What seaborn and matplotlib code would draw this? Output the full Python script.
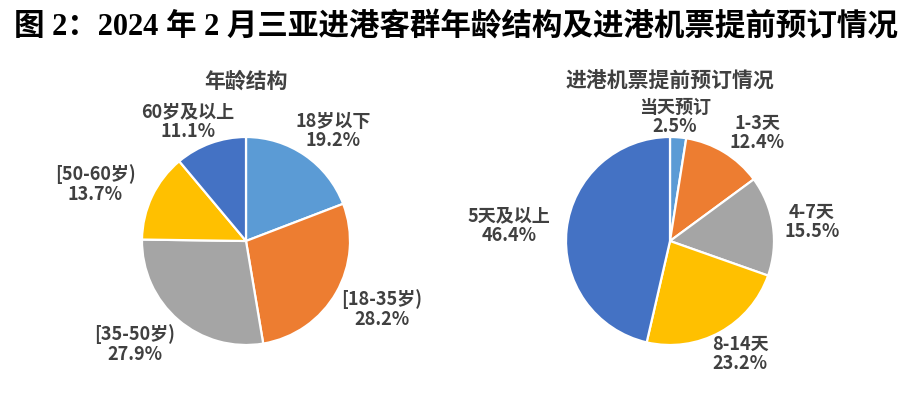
import numpy as np
import matplotlib
matplotlib.use("Agg")
import matplotlib.pyplot as plt
import seaborn as sns

# -----------------------------
# Data
# -----------------------------
age_labels = ["18岁以下", "[18-35岁)", "[35-50岁)", "[50-60岁)", "60岁及以上"]
age_share = [19.2, 28.2, 27.9, 13.7, 11.1]

book_labels = ["当天预订", "1-3天", "4-7天", "8-14天", "5天及以上"]
book_share = [2.5, 12.4, 15.5, 23.2, 46.4]

TITLE = "图 2：2024 年 2 月三亚进港客群年龄结构及进港机票提前预订情况"
SUB_LEFT = "年龄结构"
SUB_RIGHT = "进港机票提前预订情况"

# -----------------------------
# Layout (pixels of the 915x397 canvas)
# -----------------------------
W, H = 915, 397
R = 104  # pie radius in px
LEFT_CENTER = (246, 241)
RIGHT_CENTER = (670, 241)
# label centres in px
LEFT_LABEL_PX = [(333, 131), (382, 309), (135, 344), (95, 184), (188, 122)]
RIGHT_LABEL_PX = [(675, 117), (757, 133), (812, 222), (740, 354), (509, 226)]

office = ["#5B9BD5", "#ED7D31", "#A5A5A5", "#FFC000", "#4472C4"]
TXT = "#404040"

sns.set_theme(style="white")
plt.rcParams["font.family"] = ["Noto Sans CJK SC", "DejaVu Sans"]
palette = sns.color_palette(office)

fig = plt.figure(figsize=(W / 100, H / 100), dpi=100)
fig.patch.set_facecolor("white")


def draw_pie(center, labels, values, label_px, subtitle):
    L = 1.05
    cx, cy = center
    ax = fig.add_axes([(cx - L * R) / W, (H - cy - L * R) / H,
                       2 * L * R / W, 2 * L * R / H])
    ax.pie(values, colors=palette, startangle=90, counterclock=False,
           radius=1, wedgeprops=dict(edgecolor="white", linewidth=1.6))
    ax.set_xlim(-L, L)
    ax.set_ylim(-L, L)
    ax.set_aspect("equal")
    ax.axis("off")
    for lab, val, (px, py) in zip(labels, values, label_px):
        ax.text((px - cx) / R, (cy - py) / R, f"{lab}\n{val:.1f}%",
                ha="center", va="center", fontsize=13, fontweight="bold",
                color=TXT, linespacing=1.05)
    fig.text(cx / W, 1 - 81 / H, subtitle, ha="center", va="center",
             fontsize=15, fontweight="bold", color=TXT)


draw_pie(LEFT_CENTER, age_labels, age_share, LEFT_LABEL_PX, SUB_LEFT)
draw_pie(RIGHT_CENTER, book_labels, book_share, RIGHT_LABEL_PX, SUB_RIGHT)

fig.text(456 / W, 1 - 27 / H, TITLE, ha="center", va="center",
         fontsize=22, fontweight="bold", color="black",
         family=["Liberation Serif", "Noto Sans CJK SC"])

fig.savefig("out.png", dpi=100, facecolor="white")
